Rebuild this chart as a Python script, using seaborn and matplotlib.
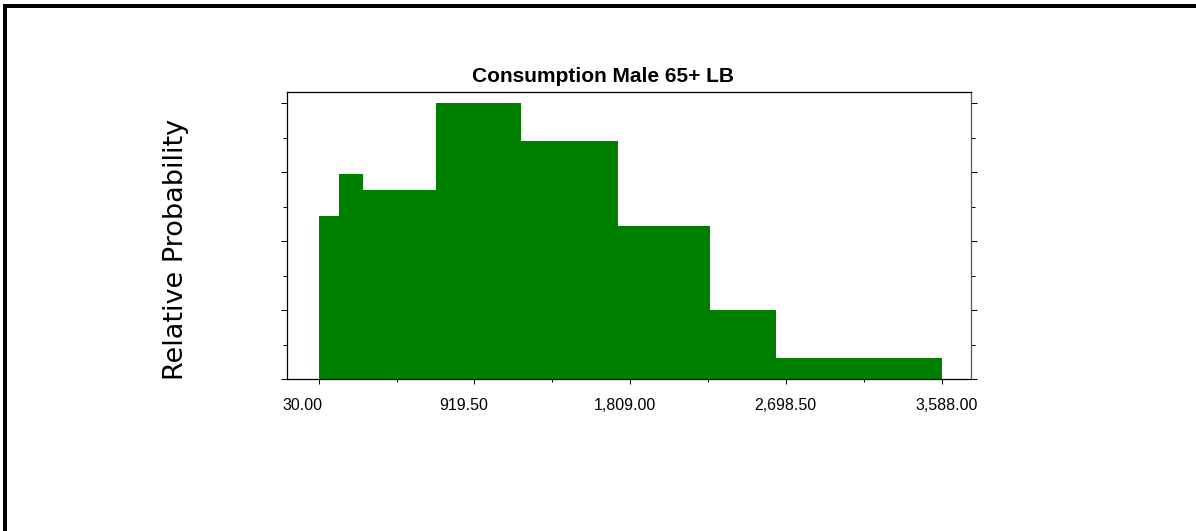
import matplotlib
matplotlib.use('Agg')
import matplotlib.pyplot as plt
from matplotlib.ticker import FixedLocator, MultipleLocator, NullFormatter
from matplotlib.patches import Rectangle
import seaborn as sns

# ── data ────────────────────────────────────────────────
bin_edges = [30, 146, 283, 700, 1185, 1741, 2265, 2643, 3588]
rel_prob = [2.37, 2.97, 2.74, 4.01, 3.45, 2.22, 1.00, 0.31]
x_ticks = [30.0, 919.5, 1809.0, 2698.5, 3588.0]
title = "Consumption Male 65+ LB"
y_label = "Relative Probability"

W, H = 1196, 531
sns.set_style("ticks")
plt.rcParams['font.family'] = ['Liberation Sans', 'DejaVu Sans']
plt.rcParams['text.color'] = 'black'
plt.rcParams['xtick.color'] = 'black'
plt.rcParams['ytick.color'] = 'black'

fig = plt.figure(figsize=(W / 100, H / 100), dpi=100)
fig.patch.set_facecolor("white")

# axes box in pixels: left 287, right 971, top 92, bottom 379
pos = [287.3 / W, 1 - 379 / H, (970.7 - 287.3) / W, (379 - 92.3) / H]
ax = fig.add_axes(pos)

mids = [(a + b) / 2 for a, b in zip(bin_edges[:-1], bin_edges[1:])]
sns.histplot(x=mids, weights=rel_prob, bins=bin_edges, stat="count",
             color="#008000", alpha=1, linewidth=0, ax=ax)

ax.set_xlim(-149.3, 3753.6)
ax.set_ylim(0, 4.161)
ax.set_xlabel("")
ax.set_ylabel("")

minor_x = [(a + b) / 2 for a, b in zip(x_ticks[:-1], x_ticks[1:])]
ax.xaxis.set_major_locator(FixedLocator(x_ticks))
ax.xaxis.set_minor_locator(FixedLocator(minor_x))
ax.xaxis.set_major_formatter(NullFormatter())
ax.yaxis.set_major_locator(MultipleLocator(1))
ax.yaxis.set_minor_locator(MultipleLocator(0.5))
ax.yaxis.set_major_formatter(NullFormatter())

ax.tick_params(axis='x', which='major', direction='out', length=3.6, width=0.72, color='black')
ax.tick_params(axis='x', which='minor', direction='out', length=2.2, width=0.72, color='black')
ax.tick_params(axis='y', which='major', direction='out', length=4, width=0.72,
               left=True, right=True, color='black')
ax.tick_params(axis='y', which='minor', direction='out', length=2.8, width=0.72,
               left=True, right=True, color='black')
for s in ax.spines.values():
    s.set_visible(True)
    s.set_color("black")
    s.set_linewidth(0.9)
ax.spines['right'].set_color("#555555")

# tick labels sit on a slightly wider scale than the ticks in the original
ax2 = fig.add_axes(pos, frameon=False)
ax2.set_xlim(-51.1, 3718.7)
ax2.set_xticks(x_ticks)
ax2.set_xticklabels([f"{v:,.2f}" for v in x_ticks], fontsize=11.5, color='black')
ax2.tick_params(axis='x', length=0, pad=13.5)
ax2.set_yticks([])
ax2.patch.set_alpha(0)

fig.text(603 / W, 1 - 82 / H, title, ha='center', va='baseline',
         fontsize=15, fontweight='bold', color='black')
fig.text(176 / W, 1 - 249 / H, y_label, rotation=90, ha='center', va='center',
         fontsize=19.5, family=['DejaVu Sans'], color='black')

# black frame on top and left edges
fig.add_artist(Rectangle((3 / W, 0), 4 / W, 1 - 4 / H, transform=fig.transFigure,
                         color='black', lw=0))
fig.add_artist(Rectangle((3 / W, 1 - 8 / H), 1, 4 / H, transform=fig.transFigure,
                         color='black', lw=0))

plt.savefig("out.png", dpi=100)
plt.close()
